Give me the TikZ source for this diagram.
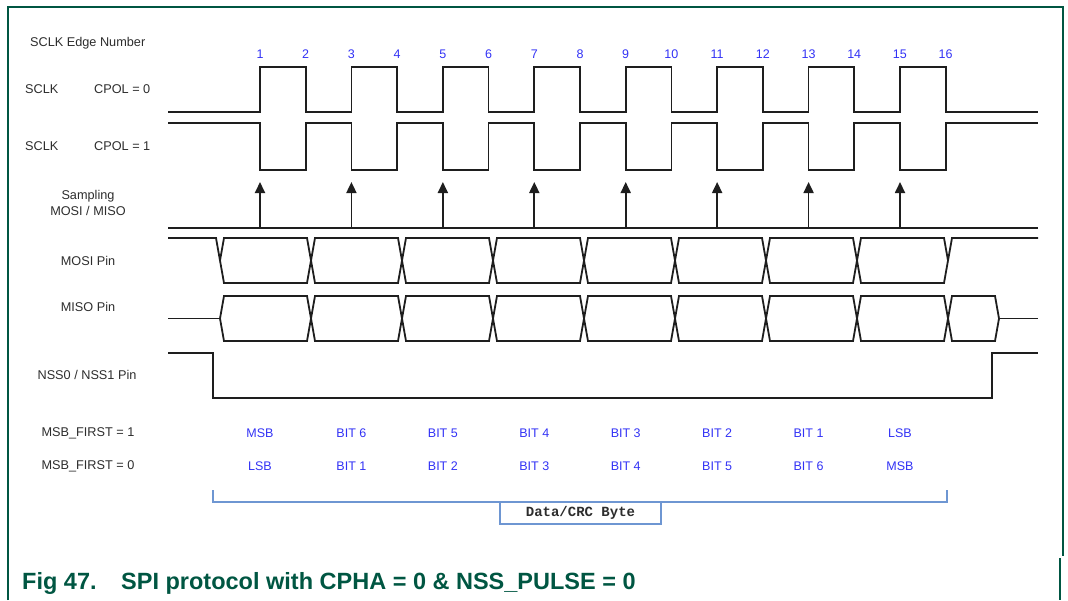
\documentclass[tikz,border=0pt]{standalone}
\usepackage{fontspec}
\setmainfont{Liberation Sans}
\newfontfamily\bytefont{Liberation Mono}
\usetikzlibrary{arrows.meta}
\definecolor{FrameGreen}{RGB}{0,86,66}
\definecolor{EdgeBlue}{RGB}{50,50,245}
\definecolor{BracketBlue}{RGB}{110,150,210}
\definecolor{WaveGray}{RGB}{30,30,30}
\definecolor{LabelGray}{RGB}{45,45,45}
\tikzset{
  wave/.style={draw=WaveGray,line width=1.8pt,line join=miter},
  sample/.style={-{Triangle[width=10pt,length=11pt]},draw=WaveGray,
    line width=1.8pt},
  siglabel/.style={font=\fontsize{12.7}{16}\selectfont,text=LabelGray,
    inner sep=0pt},
  bitlabel/.style={font=\fontsize{12.5}{16}\selectfont,text=EdgeBlue,
    inner sep=0pt},
  bytebox/.style={draw=BracketBlue,line width=1.2pt,minimum width=161pt,
    minimum height=22pt,inner sep=0pt,text=LabelGray,
    font=\bytefont\bfseries\fontsize{14}{16}\selectfont},
  bracket/.style={draw=BracketBlue,line width=1.2pt},
  frame/.style={draw=FrameGreen,line width=1.6pt},
  caption/.style={font=\bfseries\fontsize{23.5}{26}\selectfont,
    text=FrameGreen,inner sep=0pt,anchor=west}
}

\begin{document}
\begin{tikzpicture}[x=1pt,y=-1pt]
  \useasboundingbox (0,0) rectangle (1068,600);

  % page frame
  \draw[frame] (8,600) -- (8,7) -- (1063,7) -- (1063,556);
  \draw[frame] (1060,558) -- (1060,600);

  % signal names
  \node[siglabel,anchor=west] (edgename) at (30,43) {SCLK Edge Number};
  \node[siglabel,anchor=west] (sclkzero) at (25,89) {SCLK};
  \node[siglabel,anchor=west] (cpolzero) at (94,89) {CPOL = 0};
  \node[siglabel,anchor=west] (sclkone) at (25,146) {SCLK};
  \node[siglabel,anchor=west] (cpolone) at (94,146) {CPOL = 1};
  \node[siglabel,align=center] (sampname) at (88,203) {Sampling\\MOSI / MISO};
  \node[siglabel] (mosiname) at (88,261) {MOSI Pin};
  \node[siglabel] (misoname) at (88,307) {MISO Pin};
  \node[siglabel] (nssname) at (87,375) {NSS0 / NSS1 Pin};
  \node[siglabel] (firstone) at (88,433) {MSB\_FIRST = 1};
  \node[siglabel] (firstzero) at (88,466) {MSB\_FIRST = 0};

  % edge numbers
  \foreach \i in {1,...,16}
    \node[bitlabel] (edge\i) at ({260+(\i-1)*45.71},54) {\i};

  % SCLK, both polarities
  \draw[wave] (168,112) foreach \k in {0,...,7} {
      -- ({260+\k*91.43},112) -- ({260+\k*91.43},67)
      -- ({305.71+\k*91.43},67) -- ({305.71+\k*91.43},112)} -- (1038,112);
  \draw[wave] (168,123) foreach \k in {0,...,7} {
      -- ({260+\k*91.43},123) -- ({260+\k*91.43},170)
      -- ({305.71+\k*91.43},170) -- ({305.71+\k*91.43},123)} -- (1038,123);

  % sampling points
  \draw[wave] (168,228) -- (1038,228);
  \foreach \k in {0,...,7}
    \draw[sample] ({260+\k*91.43},228) -- ({260+\k*91.43},182);

  % MOSI
  \draw[wave] (168,238) -- (216,238) -- (220,260.5);
  \foreach \k in {0,...,7}
    \draw[wave] ({220+\k*91},260.5) -- ({224+\k*91},238) -- ({307+\k*91},238)
      -- ({311+\k*91},260.5) -- ({307+\k*91},283) -- ({224+\k*91},283) -- cycle;
  \draw[wave] (948,260.5) -- (952,238) -- (1038,238);

  % MISO
  \draw[wave] (168,318.5) -- (220,318.5);
  \foreach \k in {0,...,7}
    \draw[wave] ({220+\k*91},318.5) -- ({224+\k*91},296) -- ({307+\k*91},296)
      -- ({311+\k*91},318.5) -- ({307+\k*91},341) -- ({224+\k*91},341) -- cycle;
  \draw[wave] (948,318.5) -- (952,296) -- (995,296) -- (999,318.5)
    -- (995,341) -- (952,341) -- cycle;
  \draw[wave] (999,318.5) -- (1038,318.5);

  % NSS
  \draw[wave] (168,353) -- (213,353) -- (213,398) -- (992,398) -- (992,353)
    -- (1038,353);

  % bit order
  \foreach \b [count=\k from 0] in {MSB,BIT 6,BIT 5,BIT 4,BIT 3,BIT 2,BIT 1,LSB}
    \node[bitlabel] (bitone\k) at ({260+\k*91.43},433) {\b};
  \foreach \b [count=\k from 0] in {LSB,BIT 1,BIT 2,BIT 3,BIT 4,BIT 5,BIT 6,MSB}
    \node[bitlabel] (bitzero\k) at ({260+\k*91.43},466) {\b};

  % byte bracket
  \coordinate (brleft) at (213,490);
  \coordinate (brright) at (947,490);
  \draw[bracket] (brleft) -- ++(0,12) -| (brright);
  \node[bytebox] (byte) at (580.5,513) {Data/CRC Byte};

  % caption
  \node[caption] (fignum) at (22,583) {Fig 47.};
  \node[caption] (figtitle) at (121,583)
    {SPI protocol with CPHA = 0 \& NSS\_PULSE = 0};
\end{tikzpicture}
\end{document}
